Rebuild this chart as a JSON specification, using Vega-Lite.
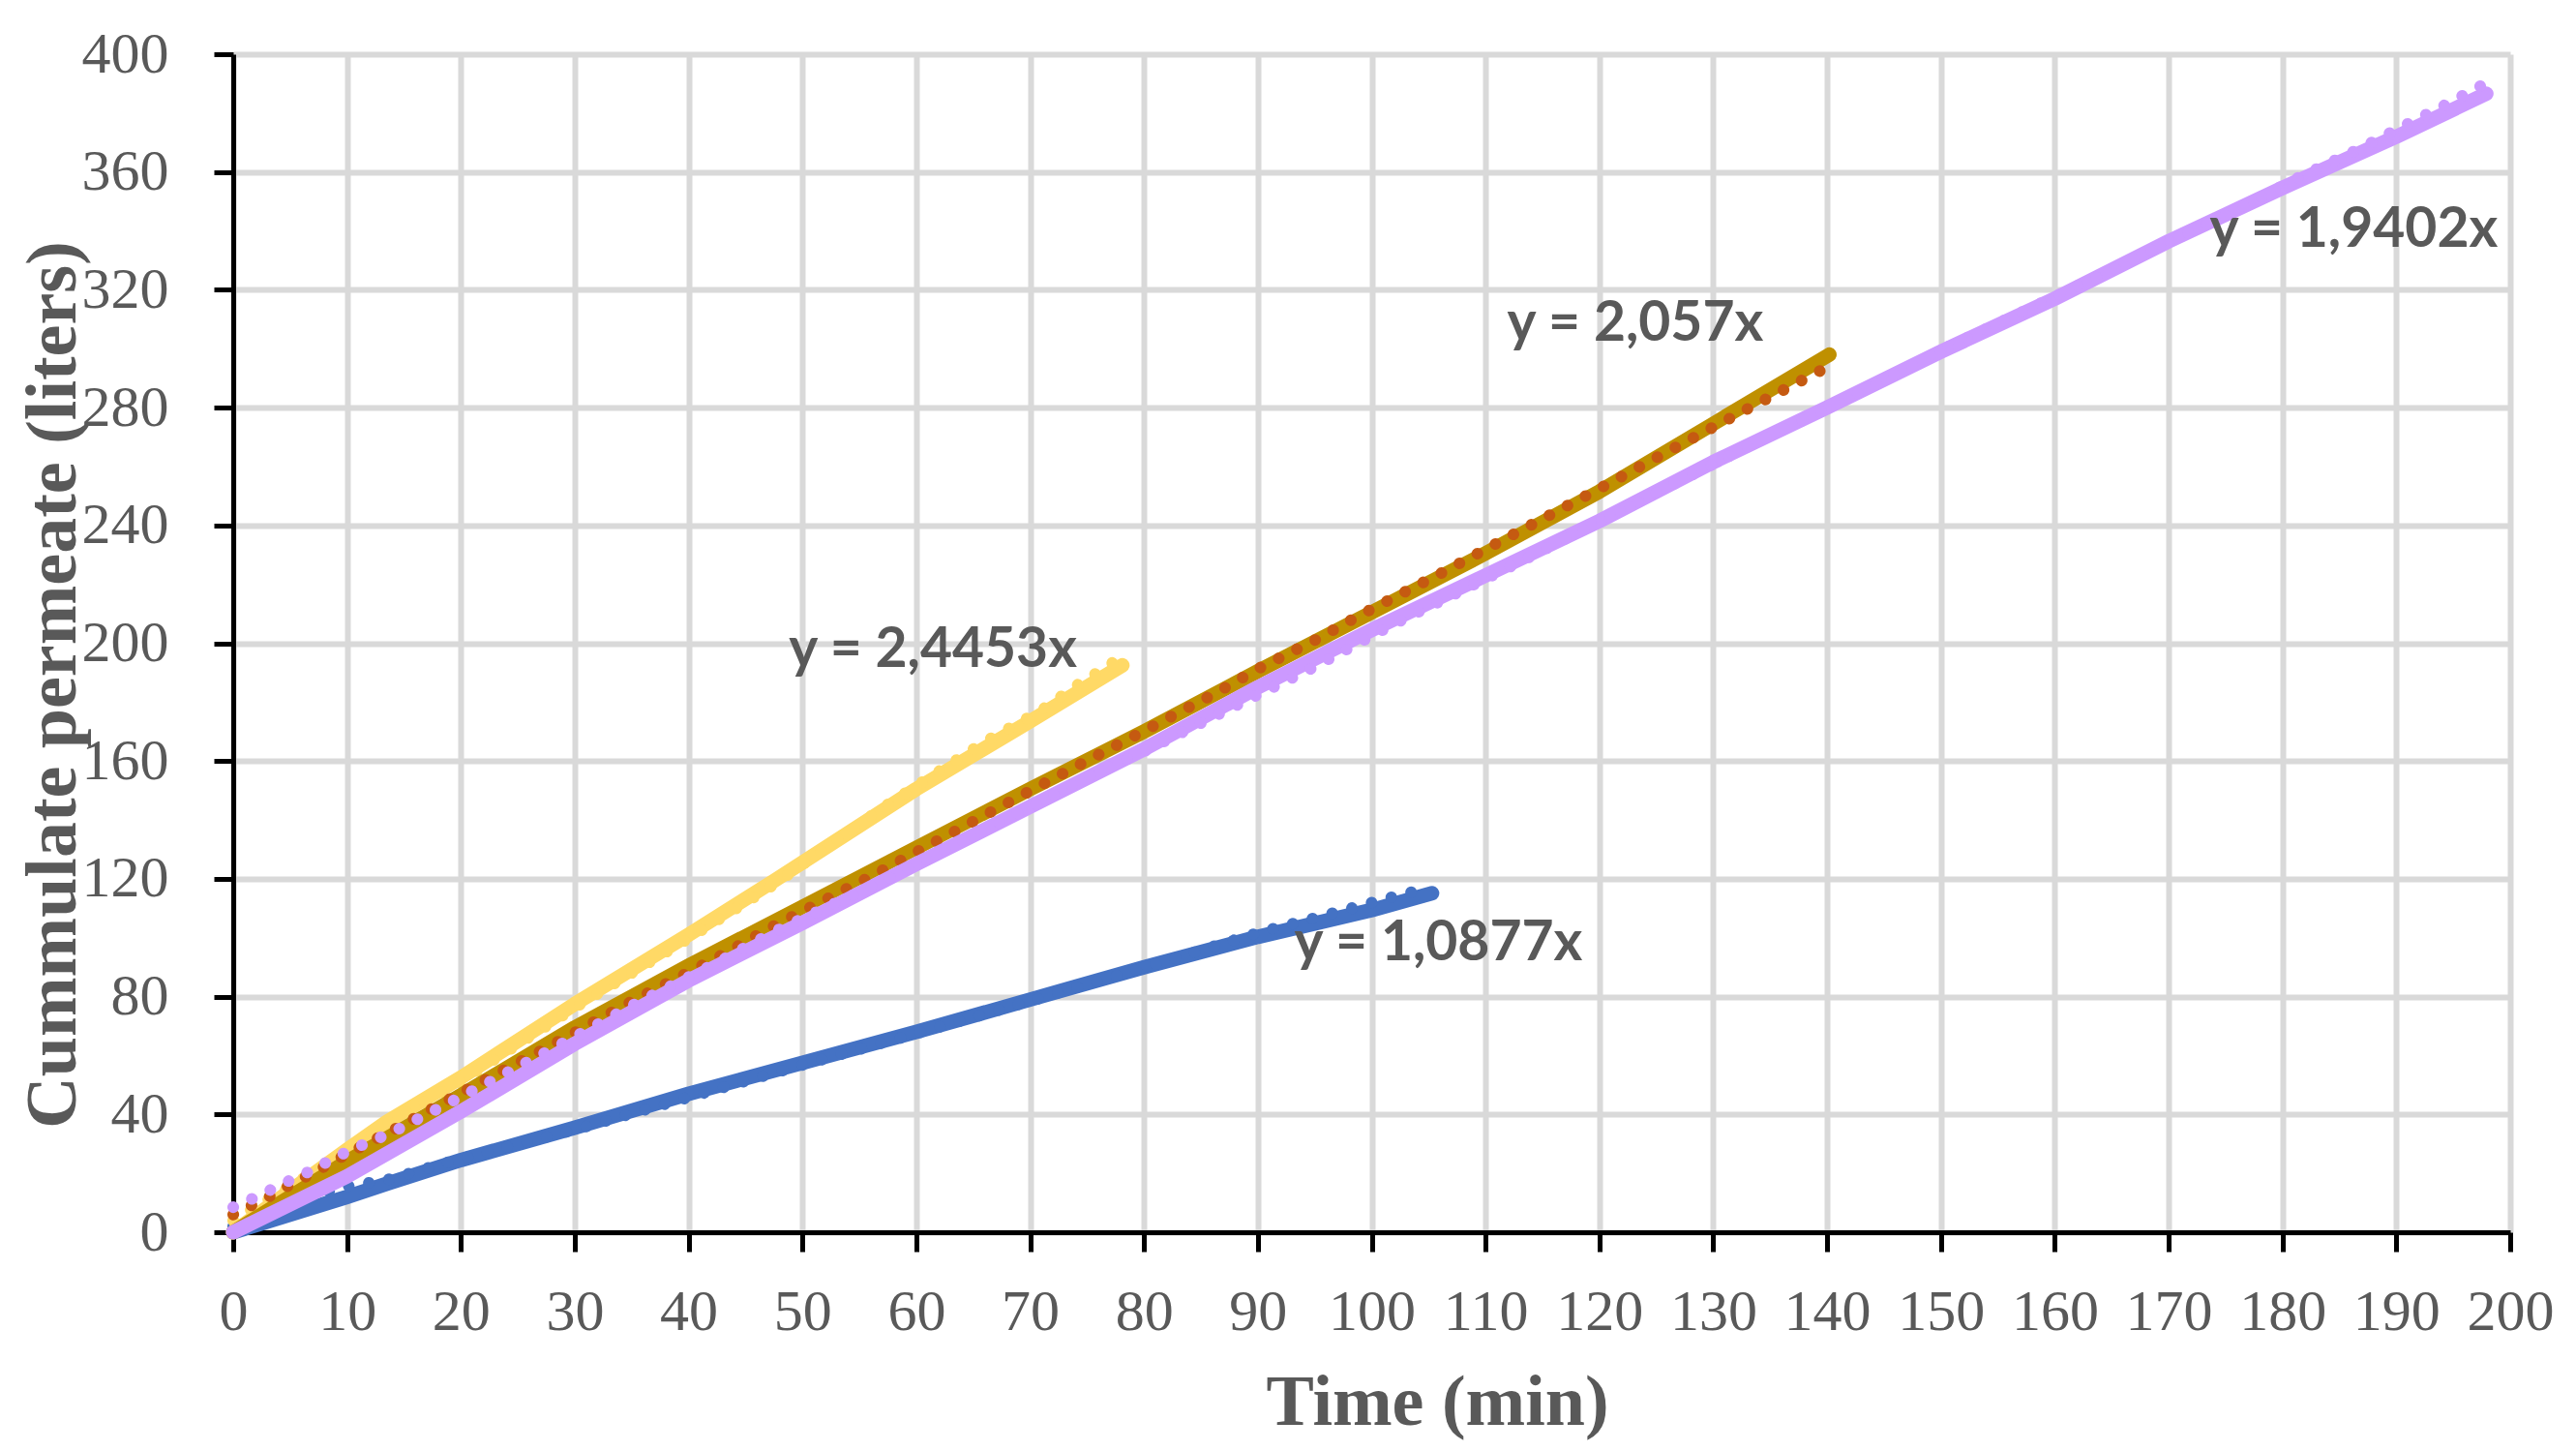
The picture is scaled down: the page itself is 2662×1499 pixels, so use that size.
{
  "$schema": "https://vega.github.io/schema/vega-lite/v6.json",
  "width": 2353,
  "height": 1217,
  "autosize": {"type": "none"},
  "padding": {"left": 241, "top": 56, "right": 68, "bottom": 226},
  "background": "white",
  "config": {
    "view": {"stroke": null},
    "axis": {
      "domainColor": "black", "domainWidth": 5,
      "tickColor": "black", "tickWidth": 5, "tickSize": 20,
      "gridColor": "#D9D9D9", "gridWidth": 6,
      "labelFont": "Liberation Serif", "labelFontSize": 60, "labelColor": "#595959",
      "titleFont": "Liberation Serif", "titleFontSize": 74, "titleFontWeight": "bold", "titleColor": "#595959"
    }
  },
  "data": {
    "values": [
      {"s":"blue","k":"line","x":0,"y":0},{"s":"blue","k":"line","x":10,"y":12},{"s":"blue","k":"line","x":13.5,"y":16.5},{"s":"blue","k":"line","x":20,"y":24.5},{"s":"blue","k":"line","x":30,"y":35.5},{"s":"blue","k":"line","x":40,"y":47},{"s":"blue","k":"line","x":50,"y":57.5},{"s":"blue","k":"line","x":60,"y":68},{"s":"blue","k":"line","x":70,"y":79},{"s":"blue","k":"line","x":80,"y":90},{"s":"blue","k":"line","x":90,"y":100.3},{"s":"blue","k":"line","x":100,"y":109.4},{"s":"blue","k":"line","x":105.3,"y":115.1},
      {"s":"blue","k":"dots","x":0,"y":2},{"s":"blue","k":"dots","x":2,"y":5.4},{"s":"blue","k":"dots","x":3.9,"y":8.4},{"s":"blue","k":"dots","x":5.9,"y":10.9},{"s":"blue","k":"dots","x":7.8,"y":13.1},{"s":"blue","k":"dots","x":9.6,"y":15.3},{"s":"blue","k":"dots","x":13.5,"y":17.8},{"s":"blue","k":"dots","x":20,"y":25},{"s":"blue","k":"dots","x":30,"y":34.8},{"s":"blue","k":"dots","x":40,"y":45.8},{"s":"blue","k":"dots","x":50,"y":56.8},{"s":"blue","k":"dots","x":60,"y":67.5},{"s":"blue","k":"dots","x":70,"y":78.5},{"s":"blue","k":"dots","x":80,"y":89.8},{"s":"blue","k":"dots","x":90.3,"y":102},{"s":"blue","k":"dots","x":94.3,"y":106},{"s":"blue","k":"dots","x":98.2,"y":110},{"s":"blue","k":"dots","x":102,"y":114},{"s":"blue","k":"dots","x":104.5,"y":116.5},
      {"s":"yellow","k":"line","x":0,"y":0},{"s":"yellow","k":"line","x":5,"y":14},{"s":"yellow","k":"line","x":10,"y":28},{"s":"yellow","k":"line","x":13.5,"y":37.5},{"s":"yellow","k":"line","x":20,"y":52.5},{"s":"yellow","k":"line","x":30,"y":77.5},{"s":"yellow","k":"line","x":40,"y":101},{"s":"yellow","k":"line","x":47.5,"y":119.3},{"s":"yellow","k":"line","x":60,"y":150.5},{"s":"yellow","k":"line","x":70,"y":173.5},{"s":"yellow","k":"line","x":78.1,"y":192.5},
      {"s":"yellow","k":"dots","x":0,"y":4},{"s":"yellow","k":"dots","x":5,"y":15.5},{"s":"yellow","k":"dots","x":10,"y":27.5},{"s":"yellow","k":"dots","x":13.5,"y":37},{"s":"yellow","k":"dots","x":20,"y":51.3},{"s":"yellow","k":"dots","x":30,"y":76.2},{"s":"yellow","k":"dots","x":40,"y":99.8},{"s":"yellow","k":"dots","x":47.5,"y":118},{"s":"yellow","k":"dots","x":57,"y":144},{"s":"yellow","k":"dots","x":65.9,"y":166.3},{"s":"yellow","k":"dots","x":70.9,"y":177},{"s":"yellow","k":"dots","x":74.4,"y":186.5},{"s":"yellow","k":"dots","x":76.1,"y":190.5},{"s":"yellow","k":"dots","x":77.8,"y":194.8},
      {"s":"brown","k":"line","x":0,"y":0},{"s":"brown","k":"line","x":10,"y":24},{"s":"brown","k":"line","x":20,"y":46.5},{"s":"brown","k":"line","x":30,"y":69.5},{"s":"brown","k":"line","x":40,"y":90.5},{"s":"brown","k":"line","x":50,"y":110.5},{"s":"brown","k":"line","x":60,"y":130.5},{"s":"brown","k":"line","x":70,"y":150.5},{"s":"brown","k":"line","x":80,"y":170},{"s":"brown","k":"line","x":90,"y":190.5},{"s":"brown","k":"line","x":100,"y":210.5},{"s":"brown","k":"line","x":110,"y":230.5},{"s":"brown","k":"line","x":120,"y":251.5},{"s":"brown","k":"line","x":130,"y":274.5},{"s":"brown","k":"line","x":140.2,"y":298},
      {"s":"brown","k":"dots","x":0,"y":6},{"s":"brown","k":"dots","x":1.8,"y":9.5},{"s":"brown","k":"dots","x":3.6,"y":13},{"s":"brown","k":"dots","x":5.3,"y":16.8},{"s":"brown","k":"dots","x":7.1,"y":20.3},{"s":"brown","k":"dots","x":8.9,"y":24.3},{"s":"brown","k":"dots","x":10.6,"y":27.8},{"s":"brown","k":"dots","x":13.9,"y":34.4},{"s":"brown","k":"dots","x":21.2,"y":49.8},{"s":"brown","k":"dots","x":28.2,"y":64},{"s":"brown","k":"dots","x":35.2,"y":78.8},{"s":"brown","k":"dots","x":42.4,"y":93},{"s":"brown","k":"dots","x":47.5,"y":104},{"s":"brown","k":"dots","x":56.6,"y":122},{"s":"brown","k":"dots","x":68.9,"y":147.6},{"s":"brown","k":"dots","x":74.2,"y":158.5},{"s":"brown","k":"dots","x":79.5,"y":169.2},{"s":"brown","k":"dots","x":86.6,"y":183.7},{"s":"brown","k":"dots","x":89.9,"y":191.1},{"s":"brown","k":"dots","x":95.4,"y":201.8},{"s":"brown","k":"dots","x":98.9,"y":209.4},{"s":"brown","k":"dots","x":106,"y":223.6},{"s":"brown","k":"dots","x":111.3,"y":234.6},{"s":"brown","k":"dots","x":120.1,"y":252.7},{"s":"brown","k":"dots","x":127.1,"y":267.4},{"s":"brown","k":"dots","x":134.2,"y":282},{"s":"brown","k":"dots","x":139.5,"y":292.7},
      {"s":"purple","k":"line","x":0,"y":0},{"s":"purple","k":"line","x":10,"y":19},{"s":"purple","k":"line","x":20,"y":41},{"s":"purple","k":"line","x":30,"y":64},{"s":"purple","k":"line","x":40,"y":85.5},{"s":"purple","k":"line","x":50,"y":105},{"s":"purple","k":"line","x":60,"y":125},{"s":"purple","k":"line","x":70,"y":144.5},{"s":"purple","k":"line","x":80,"y":164},{"s":"purple","k":"line","x":90,"y":185},{"s":"purple","k":"line","x":100,"y":204.5},{"s":"purple","k":"line","x":110,"y":223},{"s":"purple","k":"line","x":120,"y":241.5},{"s":"purple","k":"line","x":130,"y":261.5},{"s":"purple","k":"line","x":140,"y":280},{"s":"purple","k":"line","x":150,"y":299},{"s":"purple","k":"line","x":160,"y":317},{"s":"purple","k":"line","x":170,"y":336.5},{"s":"purple","k":"line","x":180,"y":354.6},{"s":"purple","k":"line","x":190,"y":372},{"s":"purple","k":"line","x":197.9,"y":386.6},
      {"s":"purple","k":"dots","x":0,"y":8.5},{"s":"purple","k":"dots","x":1.8,"y":11.6},{"s":"purple","k":"dots","x":3.6,"y":15},{"s":"purple","k":"dots","x":5.4,"y":18.4},{"s":"purple","k":"dots","x":7.1,"y":21.3},{"s":"purple","k":"dots","x":8.9,"y":25.3},{"s":"purple","k":"dots","x":10.6,"y":28.4},{"s":"purple","k":"dots","x":13.9,"y":33.8},{"s":"purple","k":"dots","x":21.2,"y":48.4},{"s":"purple","k":"dots","x":28.2,"y":62.6},{"s":"purple","k":"dots","x":35.2,"y":77.3},{"s":"purple","k":"dots","x":42.4,"y":91.3},{"s":"purple","k":"dots","x":47.5,"y":102},{"s":"purple","k":"dots","x":57.1,"y":119.3},{"s":"purple","k":"dots","x":66.2,"y":136.8},{"s":"purple","k":"dots","x":75.3,"y":155},{"s":"purple","k":"dots","x":80.5,"y":164.2},{"s":"purple","k":"dots","x":87.7,"y":178.1},{"s":"purple","k":"dots","x":94.8,"y":191.6},{"s":"purple","k":"dots","x":101.9,"y":206.4},{"s":"purple","k":"dots","x":112.7,"y":227},{"s":"purple","k":"dots","x":123.4,"y":248},{"s":"purple","k":"dots","x":134.2,"y":269},{"s":"purple","k":"dots","x":141.3,"y":282},{"s":"purple","k":"dots","x":150,"y":299.5},{"s":"purple","k":"dots","x":161.7,"y":320.8},{"s":"purple","k":"dots","x":165.3,"y":327.3},{"s":"purple","k":"dots","x":170.6,"y":337.4},{"s":"purple","k":"dots","x":176.1,"y":347.5},{"s":"purple","k":"dots","x":181.4,"y":358.1},{"s":"purple","k":"dots","x":186.8,"y":368},{"s":"purple","k":"dots","x":190.4,"y":375.2},{"s":"purple","k":"dots","x":193.9,"y":382},{"s":"purple","k":"dots","x":197.5,"y":389.4}
    ]
  },
  "encoding": {
    "x": {"field": "x", "type": "quantitative", "scale": {"domain": [0, 200], "nice": false},
      "axis": {"title": "Time (min)", "values": [0,10,20,30,40,50,60,70,80,90,100,110,120,130,140,150,160,170,180,190,200],
        "labelPadding": 33, "titleX": 1244, "titleY": 198, "titleBaseline": "alphabetic", "titleAlign": "center", "labelFlush": false, "labelOverlap": false}},
    "y": {"field": "y", "type": "quantitative", "scale": {"domain": [0, 400], "nice": false},
      "axis": {"title": "Cummulate permeate (liters)", "values": [0,40,80,120,160,200,240,280,320,360,400],
        "labelPadding": 47, "titleX": -164, "titleY": 651, "titleAngle": -90, "titleBaseline": "alphabetic", "titleAlign": "center", "labelFlush": false, "labelOverlap": false}}
  },
  "layer": [
    {"transform": [{"filter": "datum.s == 'blue' && datum.k == 'line'"}], "mark": {"type": "line", "color": "#4472C4", "strokeWidth": 15, "strokeCap": "round", "strokeJoin": "round"}},
    {"transform": [{"filter": "datum.s == 'blue' && datum.k == 'dots'"}], "mark": {"type": "line", "color": "#4472C4", "strokeWidth": 12, "strokeCap": "round", "strokeDash": [0.1, 21]}},
    {"transform": [{"filter": "datum.s == 'yellow' && datum.k == 'line'"}], "mark": {"type": "line", "color": "#FFD966", "strokeWidth": 15, "strokeCap": "round", "strokeJoin": "round"}},
    {"transform": [{"filter": "datum.s == 'yellow' && datum.k == 'dots'"}], "mark": {"type": "line", "color": "#FFD966", "strokeWidth": 12, "strokeCap": "round", "strokeDash": [0.1, 21]}},
    {"transform": [{"filter": "datum.s == 'brown' && datum.k == 'line'"}], "mark": {"type": "line", "color": "#BF9000", "strokeWidth": 15, "strokeCap": "round", "strokeJoin": "round"}},
    {"transform": [{"filter": "datum.s == 'brown' && datum.k == 'dots'"}], "mark": {"type": "line", "color": "#C55A11", "strokeWidth": 12, "strokeCap": "round", "strokeDash": [0.1, 21]}},
    {"transform": [{"filter": "datum.s == 'purple' && datum.k == 'line'"}], "mark": {"type": "line", "color": "#CC99FF", "strokeWidth": 15, "strokeCap": "round", "strokeJoin": "round"}},
    {"transform": [{"filter": "datum.s == 'purple' && datum.k == 'dots'"}], "mark": {"type": "line", "color": "#CC99FF", "strokeWidth": 12, "strokeCap": "round", "strokeDash": [0.1, 21]}},
    {
      "data": {"values": [
        {"t": "y = 2,4453x", "x": 48.8, "y": 191.8},
        {"t": "y = 2,057x", "x": 111.9, "y": 302.8},
        {"t": "y = 1,9402x", "x": 173.6, "y": 334.6},
        {"t": "y = 1,0877x", "x": 93.2, "y": 92.5}
      ]},
      "mark": {"type": "text", "font": "Lato", "fontWeight": "bold", "fontSize": 57, "color": "#595959", "align": "left", "baseline": "alphabetic"},
      "encoding": {"text": {"field": "t"}}
    }
  ]
}
